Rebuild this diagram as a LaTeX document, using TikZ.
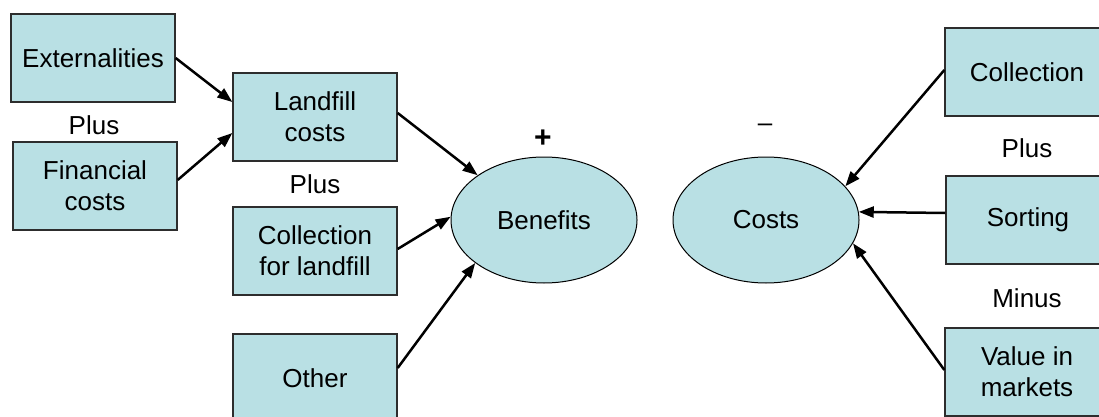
\documentclass[tikz,border=0pt]{standalone}
\usepackage{fontspec}
\setmainfont{Liberation Sans}
\usetikzlibrary{arrows.meta,shapes.geometric}
\definecolor{boxfill}{RGB}{185,224,228}
\definecolor{boxline}{RGB}{45,45,45}
\tikzset{
  factor/.style={draw=boxline, line width=1.3pt, fill=boxfill, minimum width=164pt, minimum height=88pt, inner sep=0pt, align=center, font=\fontsize{26}{31}\selectfont},
  total/.style={ellipse, draw=black, line width=1pt, fill=boxfill, minimum width=186pt, minimum height=126pt, inner sep=0pt, font=\fontsize{26}{31}\selectfont},
  lbl/.style={inner sep=0pt, font=\fontsize{26}{31}\selectfont},
  link/.style={line width=2.5pt, -{Triangle[length=15pt,width=11pt]}}
}
\begin{document}
\begin{tikzpicture}[x=1pt,y=-1pt]
\useasboundingbox (0,0) rectangle (1099,417);
% left side
\node[factor] (ext) at (93,58) {Externalities};
\node[factor] (fin) at (95,186) {Financial\\costs};
\node[lbl] (plus1) at (94,125) {Plus};
\node[factor] (land) at (315,117) {Landfill\\costs};
\node[lbl] (plus2) at (315,184) {Plus};
\node[factor] (coll) at (315,251) {Collection\\for landfill};
\node[factor] (other) at (315,378) {Other};
\node[total] (ben) at (544,220) {Benefits};
\node[lbl, font=\fontsize{30}{31}\selectfont\bfseries] (plussign) at (543,139) {+};
% right side
\node[total] (cost) at (766,220) {Costs};
\node[lbl] (minussign) at (765,128) {–};
\node[factor] (rcoll) at (1027,72) {Collection};
\node[lbl] (plus3) at (1027,148) {Plus};
\node[factor] (sort) at (1028,220) {Sorting};
\node[lbl] (minus) at (1027,298) {Minus};
\node[factor] (value) at (1027,372) {Value in\\markets};
% connectors
\draw[link] (ext.east) -- ([yshift=15pt]land.west);
\draw[link] ([yshift=6pt]fin.east) -- ([yshift=-16pt]land.west);
\draw[link] ([yshift=4pt]land.east) -- (ben.146);
\draw[link] ([yshift=2pt]coll.east) -- (ben.178);
\draw[link] ([yshift=10pt]other.east) -- (ben.212);
\draw[link] ([yshift=2pt]rcoll.west) -- (cost.23);
\draw[link] ([yshift=7pt]sort.west) -- (cost.5);
\draw[link] ([yshift=2pt]value.west) -- (cost.-15);
\end{tikzpicture}
\end{document}
